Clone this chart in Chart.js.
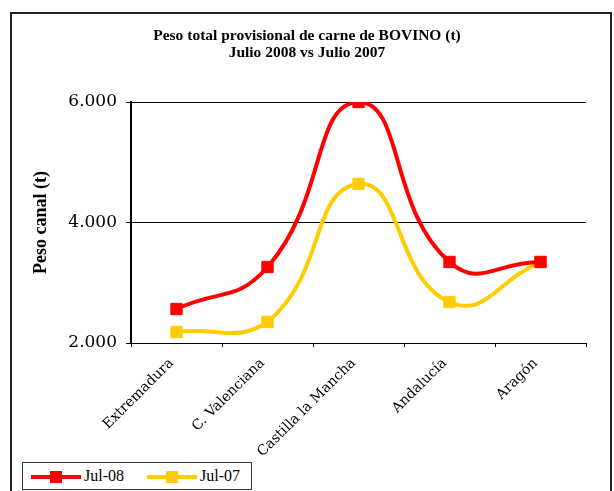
<!DOCTYPE html>
<html>
<head>
<meta charset="utf-8">
<script src="https://cdn.jsdelivr.net/npm/chart.js@4.4.0/dist/chart.umd.min.js"></script>
<style>
  body { margin: 0; width: 614px; height: 491px; overflow: hidden; background: #fff; position: relative; }
  #frame { position: absolute; left: 10px; top: 12px; width: 602px; height: 520px; border: 2px solid #222; box-sizing: border-box; }
  #bovinoChart { position: absolute; left: 0; top: 0; }
  #legend { position: absolute; left: 22px; top: 462px; width: 230px; height: 28px; border: 1px solid #333; box-sizing: border-box;
            font-family: "Liberation Serif", serif; font-size: 16px; background: #fff; }
  .item { position: absolute; top: 5px; height: 18px; }
  .swline { position: absolute; top: 7px; width: 50px; height: 4px; }
  .swbox { position: absolute; top: 3px; left: 19px; width: 12px; height: 12px; }
  .lbl { position: absolute; left: 53px; top: -1px; white-space: nowrap; }
</style>
</head>
<body>
<div id="frame"></div>
<canvas id="bovinoChart" width="614" height="491"></canvas>
<div id="legend"></div>
<script>
// data
var regions = ["Extremadura", "C. Valenciana", "Castilla la Mancha", "Andalucía", "Aragón"];
var jul08 = [2564, 3261, 6000, 3345, 3345];
var jul07 = [2183, 2349, 4640, 2680, 3345];
var seriesNames = ["Jul-08", "Jul-07"];
var seriesColors = ["#FF0000", "#FFCC00"];
var yTicks = [2000, 4000, 6000];
var titleLines = ["Peso total provisional de carne de BOVINO (t)", "Julio 2008 vs Julio 2007"];

function fmtMiles(v) {
  return String(v).replace(/\B(?=(\d{3})+(?!\d))/g, ".");
}

function makeSet(name, data, color) {
  return {
    label: name,
    data: data,
    borderColor: color,
    backgroundColor: color,
    borderWidth: 4,
    tension: 0.5,
    pointStyle: 'rect',
    pointRadius: 8,
    pointBorderWidth: 1,
    pointBackgroundColor: color,
    pointBorderColor: color,
    fill: false
  };
}

// title centred on the whole canvas, not on the padded layout box
const pageTitle = {
  id: 'pageTitle',
  afterDraw: function(chart) {
    const c = chart.ctx;
    c.save();
    c.fillStyle = '#000';
    c.font = 'bold 15.5px "Liberation Serif"';
    c.textAlign = 'center';
    c.textBaseline = 'middle';
    c.fillText(titleLines[0], chart.width / 2, 36);
    c.fillText(titleLines[1], chart.width / 2, 53);
    c.restore();
  }
};

const ctx = document.getElementById('bovinoChart');
const bovinoChart = new Chart(ctx, {
  type: 'line',
  data: {
    labels: regions,
    datasets: [
      makeSet(seriesNames[0], jul08, seriesColors[0]),
      makeSet(seriesNames[1], jul07, seriesColors[1])
    ]
  },
  plugins: [pageTitle],
  options: {
    responsive: false,
    animation: false,
    layout: { padding: { left: 0, right: 28, top: 102, bottom: 0 } },
    plugins: {
      legend: { display: false },
      tooltip: { enabled: false }
    },
    scales: {
      x: {
        offset: true,
        afterFit: function(scale) { scale.height = 148; },
        grid: { offset: true, drawOnChartArea: false, tickLength: 4, color: '#000', lineWidth: 1 },
        border: { color: '#000', width: 1 },
        ticks: {
          color: '#000',
          minRotation: 45, maxRotation: 45,
          padding: 8,
          labelOffset: -5,
          font: { family: "DejaVu Serif", size: 14 }
        }
      },
      y: {
        min: 2000, max: 6000,
        afterFit: function(scale) { scale.width = 131; },
        afterBuildTicks: function(scale) {
          scale.ticks = yTicks.map(function(v) { return { value: v }; });
        },
        grid: { color: '#000', lineWidth: 1, tickLength: 5 },
        border: { color: '#000', width: 2 },
        ticks: {
          color: '#000',
          padding: 9,
          font: { family: "DejaVu Serif", size: 17 },
          callback: function(v) { return fmtMiles(v); }
        },
        title: {
          display: true,
          text: "Peso canal (t)",
          color: '#000',
          font: { family: "Liberation Serif", size: 18, weight: 'bold', lineHeight: 1.2 },
          padding: { top: 31, bottom: 0 }
        }
      }
    }
  }
});

// legend (line with square marker, like the original)
var legendHtml = "";
var lefts = [8, 124];
for (let i = 0; i < seriesNames.length; i++) {
  legendHtml += '<div class="item" style="left:' + lefts[i] + 'px">' +
    '<div class="swline" style="background:' + seriesColors[i] + '"></div>' +
    '<div class="swbox" style="background:' + seriesColors[i] + '"></div>' +
    '<div class="lbl">' + seriesNames[i] + '</div></div>';
}
document.getElementById('legend').innerHTML = legendHtml;
</script>
</body>
</html>
